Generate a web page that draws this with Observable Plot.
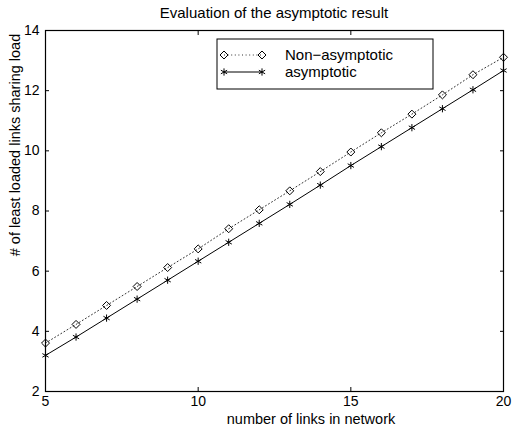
<!DOCTYPE html>
<html><head><meta charset="utf-8">
<script src="https://cdn.jsdelivr.net/npm/d3@7"></script>
<script src="https://cdn.jsdelivr.net/npm/@observablehq/plot@0.6"></script>
<style>
body{margin:0;background:#fff;}
#chart svg{font-family:"Liberation Sans",Arial,Helvetica,sans-serif;display:block;}
</style>
</head><body><div id="chart"></div>
<script>
const links = [5,6,7,8,9,10,11,12,13,14,15,16,17,18,19,20];
const nonAsymptotic = [3.61,4.23,4.86,5.49,6.12,6.74,7.41,8.04,8.67,9.31,9.96,10.60,11.22,11.86,12.53,13.11];
const asymptotic = [3.20,3.81,4.44,5.07,5.70,6.33,6.96,7.59,8.22,8.86,9.51,10.14,10.77,11.40,12.03,12.67];
const xTicks = [5,10,15,20];
const yTicks = [2,4,6,8,10,12,14];
const seriesNames = ["Non\u2212asymptotic","asymptotic"];
const titleText = "Evaluation of the asymptotic result";
const xLabelText = "number of links in network";
const yLabelText = "# of least loaded links sharing load";

const data = links.map((n,i)=>({n, non: nonAsymptotic[i], asy: asymptotic[i]}));

const W = 515, H = 426;
const plot = Plot.plot({
  width: W, height: H,
  marginLeft: 45, marginRight: 12, marginTop: 30, marginBottom: 35,
  style: {fontSize: "14px", color: "#000", background: "#fff", fontFamily: "'Liberation Sans', Arial, sans-serif"},
  x: {domain: [5,20]},
  y: {domain: [2,14]},
  marks: [
    Plot.line(data, {x: "n", y: "non", stroke: "#333", strokeWidth: 1, strokeDasharray: "1,2.6"}),
    Plot.line(data, {x: "n", y: "asy", stroke: "#000", strokeWidth: 1}),
    Plot.dot(data, {x: "n", y: "non", symbol: "diamond2", r: 3.6, stroke: "#000", fill: "none", strokeWidth: 1}),
    Plot.dot(data, {x: "n", y: "asy", symbol: "asterisk", r: 3.4, stroke: "#000", strokeWidth: 1}),
    Plot.axisX({ticks: xTicks, anchor: "bottom", tickSize: 0, tickPadding: 5, label: null, fontSize: 14}),
    Plot.axisX({ticks: xTicks, anchor: "bottom", tickSize: -4, tickFormat: () => "", label: null}),
    Plot.axisX({ticks: xTicks, anchor: "top", tickSize: -4, tickFormat: () => "", label: null}),
    Plot.axisY({ticks: yTicks, anchor: "left", tickSize: 0, tickPadding: 6, label: null, fontSize: 14}),
    Plot.axisY({ticks: yTicks, anchor: "left", tickSize: -4, tickFormat: () => "", label: null}),
    Plot.axisY({ticks: yTicks, anchor: "right", tickSize: -4, tickFormat: () => "", label: null}),
    Plot.frame({stroke: "#000", strokeWidth: 1.2})
  ]
});
document.getElementById("chart").appendChild(plot);

const svg = d3.select(plot);
const font = "'Liberation Sans', Arial, sans-serif";
svg.append("text").attr("x", 274).attr("y", 18).attr("text-anchor", "middle")
  .attr("font-size", 15).attr("font-family", font).attr("fill", "#000").text(titleText);
svg.append("text").attr("x", 311).attr("y", 423.5).attr("text-anchor", "middle")
  .attr("font-size", 14.5).attr("font-family", font).attr("fill", "#000").text(xLabelText);
svg.append("text").attr("transform", "translate(15,145) rotate(-90)").attr("dy", "0.35em")
  .attr("text-anchor", "middle").attr("font-size", 14.5).attr("font-family", font).attr("fill", "#000").text(yLabelText);

// legend
const lg = svg.append("g");
lg.append("rect").attr("x", 217).attr("y", 39).attr("width", 216).attr("height", 50)
  .attr("fill", "#fff").attr("stroke", "#000").attr("stroke-width", 1);
const rows = [
  {name: seriesNames[0], y: 55, dash: "1,2.6", col: "#333", sym: d3.symbolDiamond2, r: 3.6},
  {name: seriesNames[1], y: 72, dash: null, col: "#000", sym: d3.symbolAsterisk, r: 3.4}
];
rows.forEach(r => {
  lg.append("line").attr("x1", 224).attr("x2", 262).attr("y1", r.y).attr("y2", r.y)
    .attr("stroke", r.col).attr("stroke-width", 1).attr("stroke-dasharray", r.dash);
  [224, 262].forEach(x => {
    lg.append("path").attr("d", d3.symbol(r.sym, Math.PI * r.r * r.r)())
      .attr("transform", `translate(${x},${r.y})`).attr("fill", "none").attr("stroke", "#000");
  });
  lg.append("text").attr("x", 285).attr("y", r.y).attr("dy", "0.35em").attr("text-anchor", "start")
    .attr("font-size", 15).attr("font-family", font).attr("fill", "#000").text(r.name);
});
</script>
</body></html>
